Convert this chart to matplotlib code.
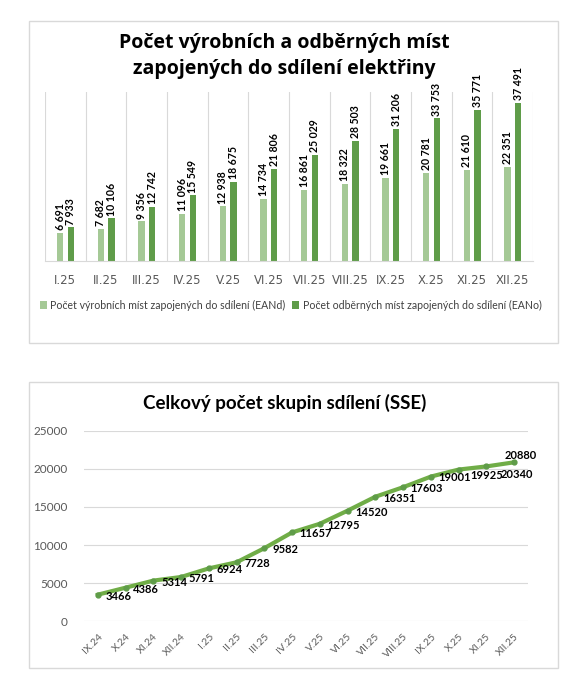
import matplotlib
matplotlib.use("Agg")
import matplotlib.pyplot as plt
from matplotlib.patches import Rectangle
import numpy as np

# data - top chart
months_top = ["I.25", "II.25", "III.25", "IV.25", "V.25", "VI.25",
              "VII.25", "VIII.25", "IX.25", "X.25", "XI.25", "XII.25"]
ean_d = [6691, 7682, 9356, 11096, 12938, 14734, 16861, 18322, 19661, 20781, 21610, 22351]
ean_o = [7933, 10106, 12742, 15549, 18675, 21806, 25029, 28503, 31206, 33753, 35771, 37491]
label_d = "Počet výrobních míst zapojených do sdílení (EANd)"
label_o = "Počet odběrných míst zapojených do sdílení (EANo)"

# data - bottom chart
months_sse = ["IX.24", "X.24", "XI.24", "XII.24", "I.25", "II.25", "III.25", "IV.25",
              "V.25", "VI.25", "VII.25", "VIII.25", "IX.25", "X.25", "XI.25", "XII.25"]
sse = [3466, 4386, 5314, 5791, 6924, 7728, 9582, 11657,
       12795, 14520, 16351, 17603, 19001, 19925, 20340, 20880]

W, H = 577, 696
fig = plt.figure(figsize=(W / 100, H / 100), dpi=100)
fig.patch.set_facecolor("white")

def fx(px):
    return px / W

def fy(py):
    return 1 - py / H

# chart frames
for x0, y0, x1, y1 in [(29, 21, 558, 343), (29, 382, 558, 668)]:
    fig.patches.append(Rectangle((fx(x0), fy(y1)), fx(x1) - fx(x0), fy(y0) - fy(y1),
                                 transform=fig.transFigure, fill=False,
                                 edgecolor="#d9d9d9", linewidth=1))

light = "#a5c996"
dark = "#5f9c49"

# ---------------- top chart ----------------
ax1 = fig.add_axes([fx(45), fy(261), fx(533) - fx(45), fy(92) - fy(261)])
x = np.arange(len(months_top))
b1 = ax1.bar(x - 0.127, ean_d, width=0.15, color=light, label=label_d)
b2 = ax1.bar(x + 0.135, ean_o, width=0.15, color=dark, label=label_o)
for bars, vals in [(b1, ean_d), (b2, ean_o)]:
    ax1.bar_label(bars, labels=[f"{v:,}".replace(",", " ") for v in vals],
                  rotation=90, padding=2, fontsize=7.6, fontweight="bold",
                  family="Lato", color="black")
ax1.set_xlim(-0.5, len(months_top) - 0.5)
ax1.set_ylim(0, 40000)
ax1.set_yticks([])
ax1.set_xticks(x)
ax1.set_xticklabels(months_top, fontsize=8.5, color="#595959", family="DejaVu Sans")
ax1.tick_params(axis="x", length=0, pad=9)
for b in np.arange(-0.5, len(months_top), 1.0):
    ax1.axvline(b, color="#d9d9d9", linewidth=0.8, zorder=0)
for s in ["top", "left", "right"]:
    ax1.spines[s].set_visible(False)
ax1.spines["bottom"].set_color("#d9d9d9")

fig.text(fx(284), fy(43), "Počet výrobních a odběrných míst", ha="center", va="center",
         fontsize=14, fontweight="bold", family="Open Sans", color="black")
fig.text(fx(284), fy(69), "zapojených do sdílení elektřiny", ha="center", va="center",
         fontsize=14, fontweight="bold", family="Open Sans", color="black")

leg = ax1.legend(loc="center left", bbox_to_anchor=(fx(34) - fx(45), (fy(305) - fy(261)) / (fy(92) - fy(261)) ),
                 ncol=2, frameon=False, handlelength=0.7, handleheight=0.7,
                 handletextpad=0.3, columnspacing=0.6, borderaxespad=0,
                 prop={"family": "Lato", "size": 7.6})
for t in leg.get_texts():
    t.set_color("#404040")

# ---------------- bottom chart ----------------
ax2 = fig.add_axes([fx(84), fy(621), fx(528) - fx(84), fy(431) - fy(621)])
xs = np.arange(len(months_sse))
ax2.plot(xs, sse, color="#70ad47", linewidth=3, marker="o", markersize=3.5,
         markerfacecolor="#5f9c49", markeredgecolor="#5f9c49", zorder=3)

# label offsets (points); the last ones are nudged like in the original
offsets = {13: (8.6, -4.3), 14: (10, -5.8)}
for i, v in enumerate(sse):
    if i == len(sse) - 1:
        ax2.annotate(str(v), (xs[i], v), xytext=(5, 1), textcoords="offset points",
                     ha="center", va="bottom", fontsize=8, fontweight="bold", family="Lato")
    else:
        ax2.annotate(str(v), (xs[i], v), xytext=offsets.get(i, (5.5, -1)),
                     textcoords="offset points", ha="left", va="center",
                     fontsize=8, fontweight="bold", family="Lato")
ax2.set_xlim(-0.5, len(months_sse) - 0.5)
ax2.set_ylim(0, 25000)
ax2.set_yticks(range(0, 25001, 5000))
ax2.set_yticklabels([str(v) for v in range(0, 25001, 5000)], fontsize=8.5,
                    color="#595959", family="Lato")
ax2.set_xticks(xs)
ax2.set_xticklabels(months_sse, rotation=45, ha="right", va="top", rotation_mode="anchor",
                    fontsize=7.5, color="#595959", family="Lato")
ax2.tick_params(axis="both", length=0)
ax2.tick_params(axis="y", pad=12)
ax2.tick_params(axis="x", pad=8)
ax2.grid(axis="y", color="#d9d9d9", linewidth=0.8)
ax2.set_axisbelow(True)
for s in ["top", "left", "right", "bottom"]:
    ax2.spines[s].set_visible(False)

fig.text(fx(285), fy(403), "Celkový počet skupin sdílení (SSE)", ha="center", va="center",
         fontsize=13.5, fontweight="bold", family="Lato", color="black")

plt.savefig("out.png", dpi=100)
